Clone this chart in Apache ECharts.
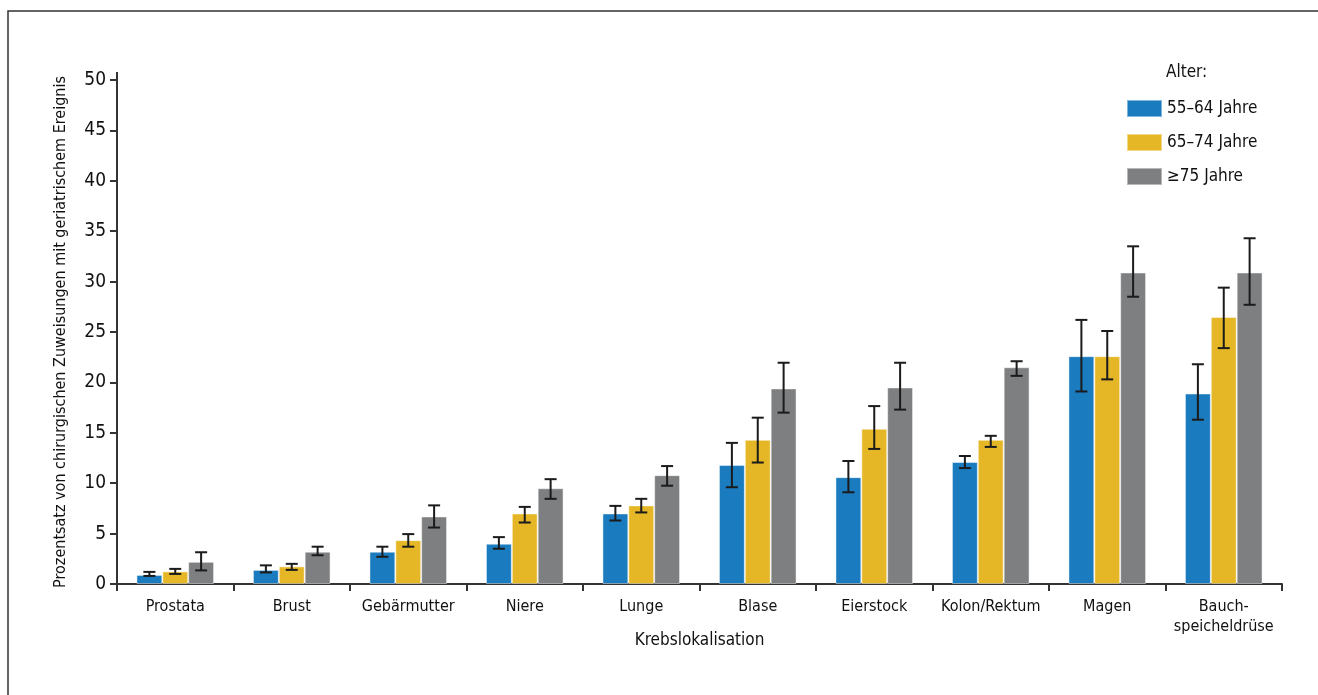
<!DOCTYPE html>
<html>
<head>
<meta charset="utf-8">
<script src="https://cdn.jsdelivr.net/npm/echarts@6/dist/echarts.min.js"></script>
<style>
  html, body { margin: 0; padding: 0; background: #fff; }
  #chart { width: 1318px; height: 695px; }
</style>
</head>
<body>
<div id="chart"></div>
<script>
// Krebslokalisation
var categories = ['Prostata', 'Brust', 'Gebärmutter', 'Niere', 'Lunge', 'Blase', 'Eierstock', 'Kolon/Rektum', 'Magen', 'Bauch-\nspeicheldrüse'];
var seriesNames = ['55–64 Jahre', '65–74 Jahre', '≥75 Jahre'];

// Werte (%) je Altersgruppe
var age55 = [0.9, 1.4, 3.2, 4.0, 7.0, 11.8, 10.6, 12.1, 22.6, 18.9];
var age65 = [1.25, 1.75, 4.35, 7.0, 7.8, 14.3, 15.4, 14.3, 22.6, 26.5];
var age75 = [2.2, 3.2, 6.7, 9.5, 10.8, 19.4, 19.5, 21.5, 30.9, 30.9];

// Fehlerbalken unten / oben
var low55 = [0.8, 1.15, 2.7, 3.5, 6.3, 9.6, 9.1, 11.5, 19.1, 16.3];
var high55 = [1.2, 1.85, 3.7, 4.65, 7.75, 14.0, 12.2, 12.7, 26.2, 21.8];
var low65 = [1.0, 1.4, 3.7, 6.1, 7.1, 12.05, 13.4, 13.6, 20.3, 23.4];
var high65 = [1.5, 2.0, 4.95, 7.65, 8.45, 16.5, 17.65, 14.7, 25.1, 29.4];
var low75 = [1.35, 2.85, 5.6, 8.45, 9.75, 17.0, 17.3, 20.65, 28.5, 27.7];
var high75 = [3.15, 3.7, 7.8, 10.4, 11.7, 21.95, 21.95, 22.1, 33.5, 34.3];

var yTicks = [0, 5, 10, 15, 20, 25, 30, 35, 40, 45, 50];

var colors = ['#1a7bbf', '#e5b727', '#7e7f81'];
var font = "'DejaVu Sans Condensed', 'Liberation Sans Narrow', sans-serif";
var barPct = 0.222;

var chart = echarts.init(document.getElementById('chart'));

function errData(low, high) {
  var out = [];
  for (var i = 0; i < categories.length; i++) {
    out.push([i, low[i], high[i]]);
  }
  return out;
}

function errSeries(idx, low, high) {
  return {
    type: 'custom',
    name: 'err' + idx,
    z: 5,
    silent: true,
    data: errData(low, high),
    encode: { x: 0, y: [1, 2] },
    renderItem: function (params, api) {
      var band = api.size([1, 0])[0];
      var off = (idx - 1) * band * barPct;
      var lo = api.coord([api.value(0), api.value(1)]);
      var hi = api.coord([api.value(0), api.value(2)]);
      var x = lo[0] + off;
      var cap = 6;
      var st = { stroke: '#1b1b1b', lineWidth: 2 };
      return {
        type: 'group',
        children: [
          { type: 'line', shape: { x1: x, y1: lo[1], x2: x, y2: hi[1] }, style: st },
          { type: 'line', shape: { x1: x - cap, y1: lo[1], x2: x + cap, y2: lo[1] }, style: st },
          { type: 'line', shape: { x1: x - cap, y1: hi[1], x2: x + cap, y2: hi[1] }, style: st }
        ]
      };
    }
  };
}

function barSeries(idx, values) {
  return {
    name: seriesNames[idx],
    type: 'bar',
    data: values,
    barWidth: (barPct * 100) + '%',
    barGap: '0%',
    itemStyle: {
      color: colors[idx],
      borderColor: 'rgba(255,255,255,0.45)',
      borderWidth: 1
    }
  };
}

var option = {
  animation: false,
  textStyle: { fontFamily: font },
  grid: { left: 117, right: 36, top: 80, bottom: 111 },
  legend: {
    data: seriesNames,
    orient: 'vertical',
    left: 1121,
    top: 94,
    itemWidth: 35,
    itemHeight: 17,
    itemGap: 15,
    icon: 'rect',
    textStyle: { fontFamily: font, fontSize: 17, color: '#111' }
  },
  graphic: [
    {
      type: 'rect',
      shape: { x: 8, y: 11, width: 1400, height: 800 },
      style: { fill: 'none', stroke: '#333', lineWidth: 1.5 },
      silent: true
    },
    {
      // y-Achse ragt etwas über 50 hinaus
      type: 'line',
      shape: { x1: 117, y1: 72, x2: 117, y2: 81 },
      style: { stroke: '#333', lineWidth: 2 },
      silent: true
    },
    {
      type: 'text',
      left: 1166,
      top: 64,
      style: { text: 'Alter:', font: '17px ' + font, fill: '#111' }
    }
  ],
  xAxis: {
    type: 'category',
    data: categories,
    name: 'Krebslokalisation',
    nameLocation: 'middle',
    nameGap: 48,
    nameMoveOverlap: false,
    nameTextStyle: { fontFamily: font, fontSize: 17, color: '#111' },
    axisLine: { lineStyle: { color: '#333', width: 2 } },
    axisTick: { show: true, length: 7, lineStyle: { color: '#333', width: 2 } },
    axisLabel: { interval: 0, margin: 13, fontFamily: font, fontSize: 16, color: '#111', lineHeight: 20 }
  },
  yAxis: {
    type: 'value',
    min: yTicks[0],
    max: yTicks[yTicks.length - 1],
    interval: 5,
    name: 'Prozentsatz von chirurgischen Zuweisungen mit geriatrischem Ereignis',
    nameLocation: 'middle',
    nameGap: 48,
    nameMoveOverlap: false,
    nameTextStyle: { fontFamily: font, fontSize: 16, color: '#111' },
    axisLine: { show: true, lineStyle: { color: '#333', width: 2 } },
    axisTick: { show: true, length: 7, lineStyle: { color: '#333', width: 2 } },
    axisLabel: { margin: 11, fontFamily: font, fontSize: 19, color: '#111' },
    splitLine: { show: false }
  },
  series: [
    barSeries(0, age55),
    barSeries(1, age65),
    barSeries(2, age75),
    errSeries(0, low55, high55),
    errSeries(1, low65, high65),
    errSeries(2, low75, high75)
  ]
};

chart.setOption(option);
</script>
</body>
</html>
